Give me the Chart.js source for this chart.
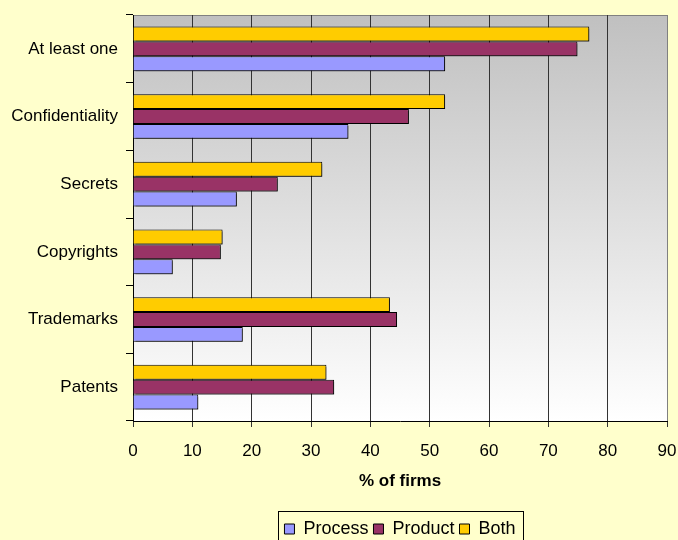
<!DOCTYPE html>
<html><head><meta charset="utf-8">
<style>html,body{margin:0;padding:0;background:#FFFFCC;}#wrap{width:678px;height:540px;position:relative;}</style>
<script src="https://cdn.jsdelivr.net/npm/chart.js@4.4.0/dist/chart.umd.min.js"></script>
</head><body><div id="wrap"><canvas id="c" width="678" height="540"></canvas></div>
<script>
const categories = ['At least one', 'Confidentiality', 'Secrets', 'Copyrights', 'Trademarks', 'Patents'];
const processValues = [52.6, 36.3, 17.5, 6.7, 18.5, 11.0];
const productValues = [74.9, 46.5, 24.4, 14.8, 44.5, 33.9];
const bothValues = [76.9, 52.6, 31.9, 15.1, 43.3, 32.6];
const xTicks = [0, 10, 20, 30, 40, 50, 60, 70, 80, 90];

const FONT = "'Liberation Sans', Arial, sans-serif";
const LEGEND_DY = 8;

const bgPlugin = {
  id: 'bg',
  beforeDraw(chart) {
    const {ctx, chartArea: a} = chart;
    ctx.save();
    ctx.fillStyle = '#FFFFCC';
    ctx.fillRect(0, 0, chart.width, chart.height);
    const g = ctx.createLinearGradient(0, a.top, 0, a.bottom);
    g.addColorStop(0, '#C0C0C0');
    g.addColorStop(1, '#FFFFFF');
    ctx.fillStyle = g;
    ctx.fillRect(a.left, a.top, a.right - a.left, a.bottom - a.top);
    ctx.strokeStyle = '#808080';
    ctx.lineWidth = 1;
    ctx.beginPath();
    ctx.moveTo(a.left, Math.round(a.top) + 0.5);
    ctx.lineTo(a.right, Math.round(a.top) + 0.5);
    ctx.stroke();
    ctx.restore();
  }
};

const shadowPlugin = {
  id: 'shadow',
  beforeDatasetDraw(chart) {
    const c = chart.ctx;
    c.save();
    c.shadowColor = 'rgba(0,0,0,0.45)';
    c.shadowOffsetX = 2;
    c.shadowOffsetY = 2;
    c.shadowBlur = 0;
  },
  afterDatasetDraw(chart) {
    chart.ctx.restore();
  }
};

const legendBoxPlugin = {
  id: 'legendBox',
  afterLayout(chart) {
    const l = chart.legend;
    const a = chart.chartArea;
    const dx = (a.left + a.right) / 2 - (l.left + l.right) / 2;
    l.left += dx; l.right += dx;
    l.top += LEGEND_DY; l.bottom += LEGEND_DY;
  },
  afterDraw(chart) {
    const hb = chart.legend.legendHitBoxes;
    if (!hb || !hb.length) return;
    let minX = Infinity, maxX = -Infinity, cy = 0;
    hb.forEach(h => { minX = Math.min(minX, h.left); maxX = Math.max(maxX, h.left + h.width); cy = h.top + h.height / 2; });
    const ctx = chart.ctx;
    ctx.save();
    ctx.strokeStyle = '#000';
    ctx.lineWidth = 1;
    ctx.strokeRect(Math.round(minX - 6) + 0.5, Math.round(cy - 18) + 0.5, Math.round(maxX - minX + 14), 40);
    ctx.restore();
  }
};

Chart.defaults.font.family = FONT;
Chart.defaults.color = '#000';

new Chart(document.getElementById('c'), {
  type: 'bar',
  data: {
    labels: categories,
    datasets: [
      {label: 'Both', data: bothValues, backgroundColor: '#FFCC00', borderColor: '#000', borderWidth: 1},
      {label: 'Product', data: productValues, backgroundColor: '#993366', borderColor: '#000', borderWidth: 1},
      {label: 'Process', data: processValues, backgroundColor: '#9999FF', borderColor: '#000', borderWidth: 1}
    ]
  },
  options: {
    indexAxis: 'y',
    responsive: false,
    animation: false,
    devicePixelRatio: 1,
    categoryPercentage: 0.66,
    barPercentage: 1,
    layout: {padding: {top: 15, right: 11, left: 0, bottom: 0}},
    plugins: {
      legend: {
        position: 'bottom',
        reverse: true,
        labels: {boxWidth: 10, boxHeight: 10, padding: 5, color: '#000', font: {size: 18, family: FONT}}
      },
      tooltip: {enabled: false}
    },
    scales: {
      x: {
        min: 0, max: 90,
        afterBuildTicks(scale) { scale.ticks = xTicks.map(v => ({value: v})); },
        afterFit(scale) { scale.height = 86; scale.paddingLeft = 0; scale.paddingRight = 0; },
        ticks: {color: '#000', font: {size: 17, family: FONT}, padding: 14, maxRotation: 0, autoSkip: false},
        grid: {
          color: ctx => (ctx.tick && ctx.tick.value === 90) ? '#808080' : '#333333',
          tickColor: '#333333', tickLength: 6, lineWidth: 1, drawTicks: true
        },
        border: {display: true, color: '#000', width: 1},
        title: {display: true, text: '% of firms', color: '#000', font: {size: 17, weight: 'bold', family: FONT}, padding: {top: 4, bottom: 15}}
      },
      y: {
        afterFit(scale) { scale.width = 133; scale.paddingTop = 0; scale.paddingBottom = 0; },
        ticks: {color: '#000', font: {size: 17, family: FONT}, padding: 8},
        grid: {drawOnChartArea: false, drawTicks: true, tickLength: 7, tickColor: '#000', offset: true},
        border: {display: true, color: '#000', width: 1}
      }
    }
  },
  plugins: [bgPlugin, shadowPlugin, legendBoxPlugin]
});
</script></body></html>
